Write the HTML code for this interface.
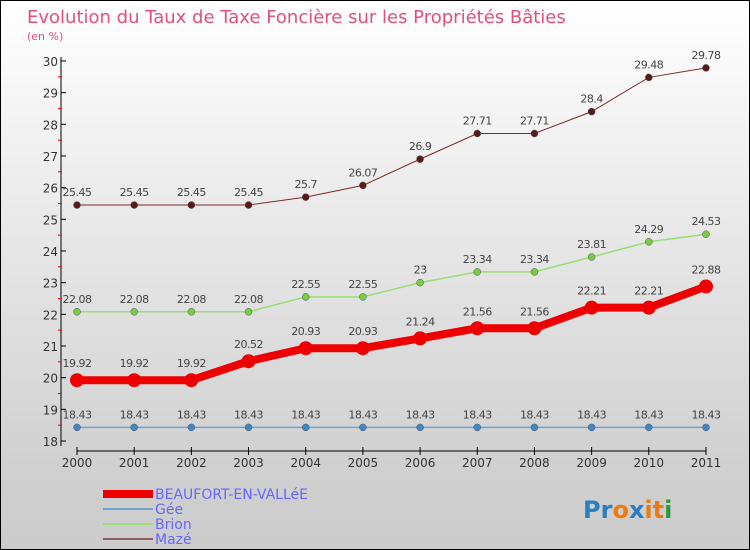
<!DOCTYPE html>
<html><head><meta charset="utf-8"><style>
body{margin:0}
#c{width:750px;height:550px;position:relative;background:linear-gradient(#ffffff,#d0d0d0 85%,#cccccc);box-sizing:border-box;border:1px solid #000;overflow:hidden;font-family:"DejaVu Sans","Liberation Sans",sans-serif}
</style></head><body>
<div id="c">
<svg width="750" height="550" id="s">
<text x="26" y="22" font-size="18" fill="#e0507a">Evolution du Taux de Taxe Foncière sur les Propriétés Bâties</text>
<text x="26" y="39" font-size="11" fill="#e0507a">(en %)</text>
<g id="g"></g>
<g>
<rect x="102" y="489" width="50" height="8" fill="#ee0000"/>
<text x="154" y="498" font-size="14" fill="#6666ff">BEAUFORT-EN-VALLéE</text>
<rect x="102" y="507" width="50" height="2" fill="#6fa3cf"/>
<text x="154" y="513" font-size="14" fill="#6666ff">Gée</text>
<rect x="102" y="522" width="50" height="2" fill="#99dd77"/>
<text x="154" y="528" font-size="14" fill="#6666ff">Brion</text>
<rect x="102" y="537" width="50" height="2" fill="#8b5f5f"/>
<text x="154" y="543" font-size="14" fill="#6666ff">Mazé</text>
</g>
<text x="582" y="517" font-size="24" font-weight="bold"><tspan fill="#2a7fc0">Pr</tspan><tspan fill="#f07a10">o</tspan><tspan fill="#2a7fc0">x</tspan><tspan fill="#f07a10">i</tspan><tspan fill="#f07a10">t</tspan><tspan fill="#2a9a3a">i</tspan></text>
</svg>
</div>
<script>
const years=[2000,2001,2002,2003,2004,2005,2006,2007,2008,2009,2010,2011];
const beaufort=[19.92,19.92,19.92,20.52,20.93,20.93,21.24,21.56,21.56,22.21,22.21,22.88];
const gee=[18.43,18.43,18.43,18.43,18.43,18.43,18.43,18.43,18.43,18.43,18.43,18.43];
const brion=[22.08,22.08,22.08,22.08,22.55,22.55,23,23.34,23.34,23.81,24.29,24.53];
const maze=[25.45,25.45,25.45,25.45,25.7,26.07,26.9,27.71,27.71,28.4,29.48,29.78];
const yTicks=[18,19,20,21,22,23,24,25,26,27,28,29,30];
const NS="http://www.w3.org/2000/svg";
const g=document.getElementById('g');
const X=i=>76+i*57.18;
const Y=v=>440-(v-18)*31.67;
function mk(t,a,p){const e=document.createElementNS(NS,t);for(const k in a)e.setAttribute(k,a[k]);(p||g).appendChild(e);return e;}
let ax=mk('line',{x1:60,y1:56,x2:60,y2:445,stroke:'#000'});


yTicks.forEach(v=>{
 let l=mk('line',{x1:60,x2:65,y1:Y(v),y2:Y(v),stroke:'#000'});
 
 
 if(v<30){let m=mk('line',{x1:57,x2:61,y1:Y(v+0.5),y2:Y(v+0.5),stroke:'#e00'});
 
 }
 let t=mk('text',{x:57,y:Y(v)+5,'font-size':12,'text-anchor':'end',fill:'#333'});t.textContent=v;
 
 
});
let xa=mk('line',{x1:76,y1:450,x2:X(11),y2:450,stroke:'#000'});


years.forEach((yr,i)=>{
 let l=mk('line',{x1:X(i),x2:X(i),y1:446,y2:454,stroke:'#000'});
 
 
 let t=mk('text',{x:X(i),y:466,'font-size':12,'text-anchor':'middle',fill:'#333'});t.textContent=yr;
 
 
});
function series(d,name,col,dot,w,r){
 let p=mk('polyline',{points:d.map((v,i)=>X(i)+','+Y(v)).join(' '),fill:'none',stroke:col,'stroke-width':w});
 
 
 d.forEach((v,i)=>{
  let c=mk('circle',{cx:X(i),cy:Y(v),r:r,fill:dot,stroke:w>3?'none':'#555','stroke-width':0.5});
  
  
  let t=mk('text',{x:X(i),y:Y(v)-(w>3?13:9),'font-size':11,'text-anchor':'middle',fill:'#444','letter-spacing':'-0.5'});
  t.textContent=String(v).replace(/^(\d+\.\d)$/,'$1');
  
  
 });
}
series(maze,'maze','#7a2a2a','#5a1a1a',1,3.5);
series(brion,'brion','#99dd77','#77cc44',1.5,3.5);
series(gee,'gee','#6fa3cf','#3f88c8',1.5,3.5);
series(beaufort,'beaufort','#ee0000','#ee0000',8,7);
</script>
</body></html>
